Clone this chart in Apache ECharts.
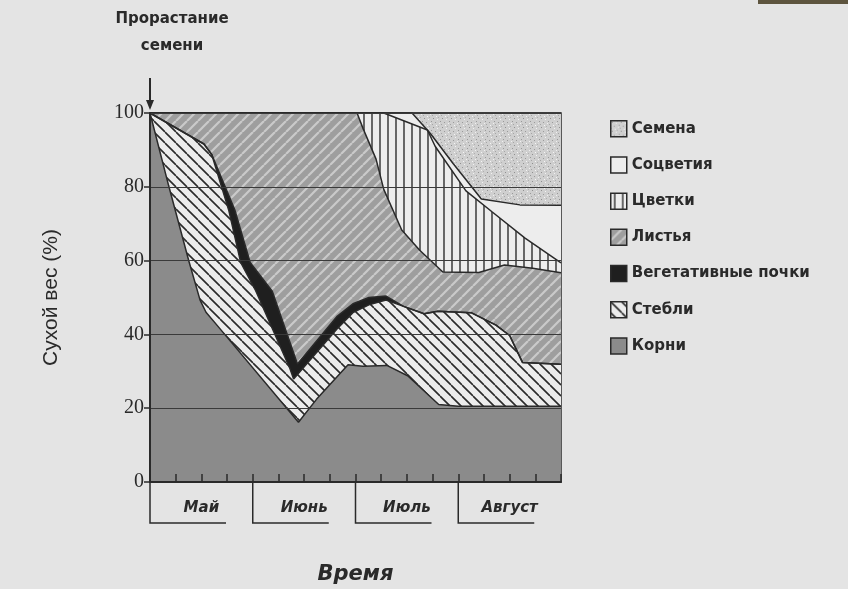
<!DOCTYPE html>
<html>
<head>
<meta charset="utf-8">
<script src="https://cdn.jsdelivr.net/npm/echarts@6/dist/echarts.min.js"></script>
<style>
  html, body { margin: 0; padding: 0; background: #e4e4e4; }
  #main { width: 848px; height: 589px; }
</style>
</head>
<body>
<div id="main"></div>
<script>
// months under the time axis, 4 weeks each
const months = ['Май', 'Июнь', 'Июль', 'Август'];
const weeksPerMonth = 4;
const totalWeeks = 16;

const layerNames = ['Семена', 'Соцветия', 'Цветки', 'Листья', 'Вегетативные почки', 'Стебли', 'Корни'];

// upper edge of every layer: [week, cumulative % of dry weight]
const seedsTop = [[0, 100], [16, 100]];
const inflorTop = [[0, 100], [10.2, 100], [10.9, 94.6], [11.8, 86.3], [12.9, 76.7], [14.4, 75.1], [16, 75]];
const flowersTop = [[0, 100], [9.1, 100], [10.8, 95.4], [11.1, 91.0], [12.3, 78.9], [13.3, 73.3], [14.6, 66.1], [16, 59.4]];
const leavesTop = [[0, 100], [8.06, 100], [8.3, 95.7], [8.8, 87.5], [9.1, 79.3], [9.8, 68.3], [10.5, 62.8],
  [11.4, 56.9], [12.8, 56.8], [13.8, 58.8], [14.9, 57.9], [16, 56.7]];
const budsTop = [[0, 100], [2.1, 91.6], [2.4, 88.8], [3.3, 73.8], [3.9, 59.5], [4.76, 51.7], [5.74, 32.0],
  [7.27, 44.8], [7.9, 48.3], [8.52, 50.0], [9.19, 50.4], [9.87, 47.6], [10.67, 45.6], [11.2, 46.3],
  [12.5, 45.9], [13.47, 42.5], [14.0, 39.7], [14.5, 32.4], [16, 31.9]];
const stemsTop = [[0, 100], [2.1, 91.6], [2.4, 88.8], [3.06, 73.8], [3.53, 59.5], [4.11, 51.9], [5.45, 30.7],
  [5.59, 27.9], [7.27, 41.4], [7.9, 45.9], [8.52, 48.0], [9.19, 49.3], [9.87, 47.6], [10.67, 45.6],
  [11.2, 46.3], [12.5, 45.9], [13.47, 42.5], [14.0, 39.7], [14.5, 32.4], [16, 31.9]];
const rootsTop = [[0, 100], [0.73, 80.2], [1.52, 59.7], [1.95, 49.3], [2.18, 46.0], [2.68, 41.9], [5.78, 16.2],
  [6.48, 22.4], [7.71, 31.8], [8.29, 31.4], [9.22, 31.6], [10.03, 28.8], [11.24, 21.0], [12.0, 20.5], [16, 20.5]];

// --- fill textures ---
function hatch(bg, fg, size, lw, dir) {
  const c = document.createElement('canvas');
  c.width = size; c.height = size;
  const ctx = c.getContext('2d');
  ctx.fillStyle = bg;
  ctx.fillRect(0, 0, size, size);
  ctx.strokeStyle = fg;
  ctx.lineWidth = lw;
  ctx.beginPath();
  if (dir === '|') {
    ctx.moveTo(size / 2, 0); ctx.lineTo(size / 2, size);
  } else {
    for (let k = -1; k <= 1; k++) {
      if (dir === '/') { ctx.moveTo(k * size, size); ctx.lineTo(k * size + size, 0); }
      else { ctx.moveTo(k * size, 0); ctx.lineTo(k * size + size, size); }
    }
  }
  ctx.stroke();
  return { image: c, repeat: 'repeat' };
}

function stipple(bg) {
  const c = document.createElement('canvas');
  c.width = 9; c.height = 9;
  const ctx = c.getContext('2d');
  ctx.fillStyle = bg;
  ctx.fillRect(0, 0, 9, 9);
  const dots = [[1, 1, '#8f8f8f'], [5, 2, '#f2f2f2'], [3, 5, '#9a9a9a'], [7, 6, '#f0f0f0'], [0, 7, '#a5a5a5'], [6, 0, '#b0b0b0'], [4, 8, '#f5f5f5'], [8, 4, '#999']];
  dots.forEach(function (d) { ctx.fillStyle = d[2]; ctx.fillRect(d[0], d[1], 1, 1); });
  return { image: c, repeat: 'repeat' };
}

const fills = [
  stipple('#cfcfcf'),
  '#ededed',
  hatch('#ededed', '#2e2e2e', 8, 1.4, '|'),
  hatch('#9e9e9e', '#cacaca', 11, 2.2, '/'),
  '#1f1f1f',
  hatch('#ececec', '#2a2a2a', 11, 1.6, '\\'),
  '#8b8b8b'
];
const edges = [seedsTop, inflorTop, flowersTop, leavesTop, budsTop, stemsTop, rootsTop];

const chart = echarts.init(document.getElementById('main'), null, { renderer: 'canvas' });

function layer(i) {
  return {
    name: layerNames[i],
    type: 'line',
    data: edges[i],
    symbol: 'none',
    silent: true,
    z: 2,
    lineStyle: { color: '#2a2a2a', width: 1.5 },
    itemStyle: { color: fills[i] },
    areaStyle: { color: fills[i], opacity: 1 }
  };
}

const option = {
  animation: false,
  backgroundColor: '#e4e4e4',
  grid: {
    left: 150, right: 287, top: 113, bottom: 107,
    outerBoundsMode: 'none',
    show: true, borderColor: '#2a2a2a', borderWidth: 1.5, backgroundColor: 'transparent'
  },
  legend: {
    orient: 'vertical',
    left: 605, top: 115,
    itemWidth: 16, itemHeight: 16, itemGap: 18.7,
    icon: 'rect',
    selectedMode: false,
    itemStyle: { borderColor: '#2a2a2a', borderWidth: 1.5 },
    textStyle: { fontFamily: 'DejaVu Sans', fontWeight: 'bold', fontSize: 15, color: '#2a2a2a' },
    data: layerNames
  },
  xAxis: [{
    type: 'value', min: 0, max: totalWeeks, interval: 1, z: 10,
    axisLine: { lineStyle: { color: '#2a2a2a', width: 2 } },
    axisTick: { inside: true, length: 8, lineStyle: { color: '#2a2a2a', width: 1.5 } },
    axisLabel: { show: false },
    splitLine: { show: false },
    name: 'Время', nameLocation: 'middle', nameGap: 82,
    nameTextStyle: { fontFamily: 'DejaVu Sans', fontWeight: 'bold', fontStyle: 'italic', fontSize: 21, color: '#2a2a2a' }
  }, {
    type: 'category', data: months, position: 'bottom', boundaryGap: true, z: 10,
    axisLine: { show: false },
    axisTick: { show: false },
    axisLabel: {
      margin: 19,
      fontFamily: 'DejaVu Sans', fontWeight: 'bold', fontStyle: 'italic', fontSize: 15, color: '#2a2a2a'
    }
  }],
  yAxis: {
    type: 'value', min: 0, max: 100, interval: 20, z: 10,
    axisLine: { show: true, lineStyle: { color: '#2a2a2a', width: 2 } },
    axisTick: { show: true, length: 6, lineStyle: { color: '#2a2a2a', width: 1.5 } },
    axisLabel: { fontFamily: 'Liberation Serif', fontSize: 20, color: '#2a2a2a', margin: 6 },
    splitLine: { show: true, lineStyle: { color: '#3a3a3a', width: 1.2 } },
    name: 'Сухой вес (%)', nameLocation: 'middle', nameGap: 88,
    nameTextStyle: { fontFamily: 'Liberation Sans', fontSize: 21, color: '#2a2a2a' }
  },
  series: layerNames.map(function (n, i) { return layer(i); })
};
chart.setOption(option);

// month brackets, germination note and arrow, placed from the axes
const gfx = [];
for (let m = 0; m < months.length; m++) {
  const p = chart.convertToPixel({ gridIndex: 0 }, [m * weeksPerMonth, 0]);
  gfx.push({
    type: 'polyline', silent: true,
    shape: { points: [[p[0], p[1] - 12], [p[0], p[1] + 41], [p[0] + 76, p[1] + 41]] },
    style: { stroke: '#2a2a2a', lineWidth: 1.5, fill: null }
  });
}
const startPt = chart.convertToPixel({ gridIndex: 0 }, [0, 100]);
gfx.push({
  type: 'text', silent: true, x: startPt[0] + 22, y: 6,
  style: { text: 'Прорастание\nсемени', align: 'center', lineHeight: 27, font: 'bold 15px "DejaVu Sans"', fill: '#2a2a2a' }
});
gfx.push({
  type: 'line', silent: true,
  shape: { x1: startPt[0], y1: startPt[1] - 35, x2: startPt[0], y2: startPt[1] - 6 },
  style: { stroke: '#2a2a2a', lineWidth: 2 }
});
gfx.push({
  type: 'polygon', silent: true,
  shape: { points: [[startPt[0] - 4, startPt[1] - 13], [startPt[0] + 4, startPt[1] - 13], [startPt[0], startPt[1] - 3]] },
  style: { fill: '#2a2a2a' }
});
gfx.push({
  type: 'rect', silent: true,
  shape: { x: 758, y: 0, width: 90, height: 4 },
  style: { fill: '#5d543e' }
});
chart.setOption({ graphic: gfx });
</script>
</body>
</html>
